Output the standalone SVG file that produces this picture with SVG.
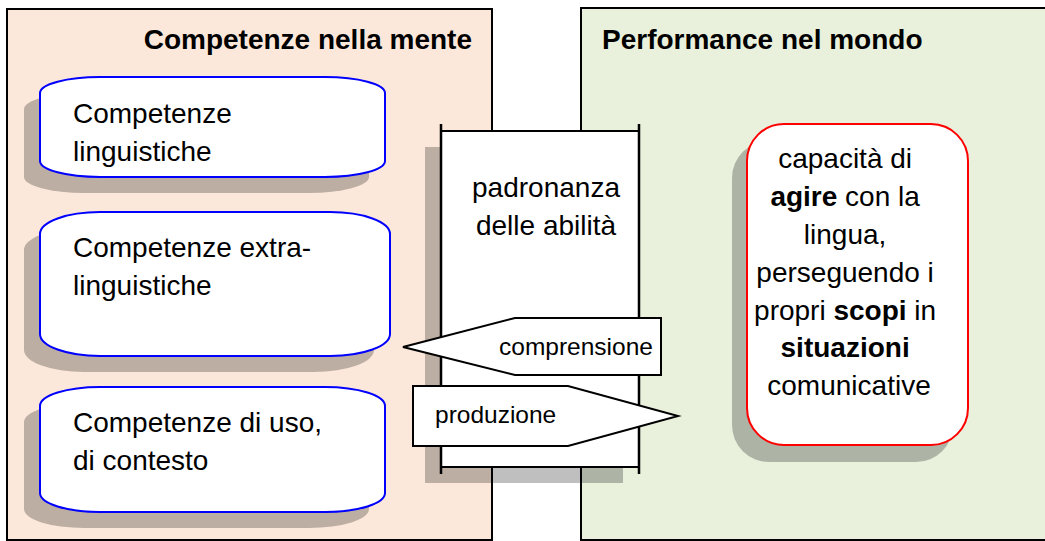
<svg xmlns="http://www.w3.org/2000/svg" width="1045" height="541" viewBox="0 0 1045 541">
<style>
  .panel { stroke: #000; stroke-width: 2; }
  .shadow { fill: #000; fill-opacity: 0.25; }
  .blue { fill: #fff; stroke: #0000ff; stroke-width: 2; }
  .red { fill: #fff; stroke: #ff0000; stroke-width: 2; }
  .box { fill: #fff; stroke: #000; stroke-width: 2; }
  .t { font-family: "Liberation Sans", Arial, sans-serif; font-size: 28px; fill: #000; }
  .title { font-family: "Liberation Sans", Arial, sans-serif; font-size: 28px; font-weight: bold; fill: #000; }
  .small { font-family: "Liberation Sans", Arial, sans-serif; font-size: 24.5px; fill: #000; }
  b, .b { font-weight: bold; }
</style>
<rect width="1045" height="541" fill="#fff"/>
<g id="panel-mente">
  <rect class="panel" x="7" y="9" width="485" height="531" fill="#fce8da"/>
  <text class="title" x="472" y="49" text-anchor="end">Competenze nella mente</text>
</g>
<g id="panel-mondo">
  <rect class="panel" x="581" y="8" width="480" height="532" fill="#e9f0dc"/>
  <text class="title" x="602" y="49">Performance nel mondo</text>
</g>
<g id="node-linguistiche">
  <rect class="shadow" x="24" y="93" width="345" height="100" rx="60" ry="16"/>
  <rect class="blue" x="40" y="77" width="345" height="100" rx="60" ry="16"/>
  <text class="t" x="73" y="123">Competenze</text>
  <text class="t" x="73" y="161">linguistiche</text>
</g>
<g id="node-extralinguistiche">
  <rect class="shadow" x="24" y="228" width="350" height="144" rx="60" ry="22"/>
  <rect class="blue" x="40" y="212" width="350" height="144" rx="60" ry="22"/>
  <text class="t" x="73" y="257">Competenze extra-</text>
  <text class="t" x="73" y="295">linguistiche</text>
</g>
<g id="node-uso">
  <rect class="shadow" x="24" y="403" width="345" height="125" rx="60" ry="19"/>
  <rect class="blue" x="40" y="387" width="345" height="125" rx="60" ry="19"/>
  <text class="t" x="73" y="432">Competenze di uso,</text>
  <text class="t" x="73" y="470">di contesto</text>
</g>
<g id="node-padronanza">
  <rect class="shadow" x="425" y="147" width="198" height="336"/>
  <rect class="box" x="441" y="131" width="198" height="336"/>
  <line x1="441" y1="124" x2="441" y2="474" stroke="#000" stroke-width="2.5"/>
  <line x1="639" y1="124" x2="639" y2="474" stroke="#000" stroke-width="2.5"/>
  <text class="t" x="546" y="197" text-anchor="middle">padronanza</text>
  <text class="t" x="546" y="235" text-anchor="middle">delle abilità</text>
</g>
<g id="node-capacita">
  <rect class="shadow" x="732" y="141" width="221" height="321" rx="37"/>
  <rect class="red" x="747" y="124" width="221" height="321" rx="37"/>
  <text class="t" text-anchor="middle">
    <tspan x="849" y="168">capacità di</tspan>
    <tspan x="849" y="206"><tspan class="b">agire</tspan> con la</tspan>
    <tspan x="849" y="244">lingua,</tspan>
    <tspan x="849" y="282">perseguendo i</tspan>
    <tspan x="849" y="320">propri <tspan class="b">scopi</tspan> in</tspan>
    <tspan x="849" y="357" class="b">situazioni</tspan>
    <tspan x="849" y="395">comunicative</tspan>
  </text>
</g>
<g id="connectors">
  <g id="arrow-comprensione">
    <polygon class="box" points="403,347 515,318 661,318 661,375 515,375"/>
    <text class="small" x="499" y="355">comprensione</text>
  </g>
  <g id="arrow-produzione">
    <polygon class="box" points="413,386 568,386 678,416 568,446 413,446"/>
    <text class="small" x="435" y="423">produzione</text>
  </g>
</g>
</svg>
